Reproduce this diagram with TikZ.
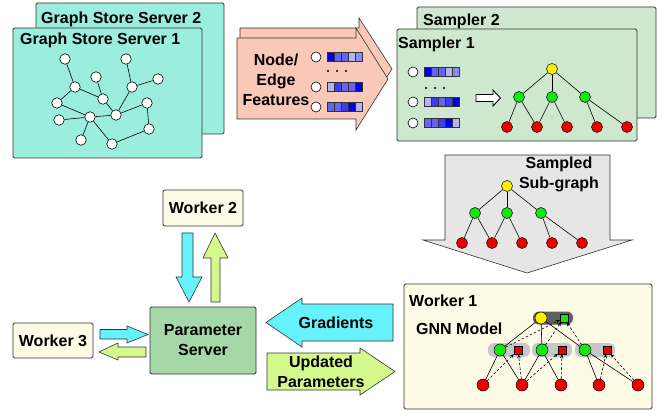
\documentclass[tikz,border=0pt]{standalone}
\usepackage{fontspec}
\setmainfont{Liberation Sans}
\usetikzlibrary{arrows.meta}
\definecolor{aqua}{RGB}{155,238,222}
\definecolor{pinkf}{RGB}{250,200,182}
\definecolor{sampg}{RGB}{205,232,206}
\definecolor{cream}{RGB}{253,251,230}
\definecolor{psg}{RGB}{166,215,168}
\definecolor{grayarr}{RGB}{230,230,230}
\definecolor{cyanar}{RGB}{102,242,252}
\definecolor{lgreen}{RGB}{212,248,140}
\definecolor{ngreen}{RGB}{20,232,20}
\definecolor{nred}{RGB}{238,0,0}
\definecolor{nyellow}{RGB}{255,240,0}
\definecolor{edgec}{RGB}{50,50,50}
\definecolor{Bz}{RGB}{0,0,238}
\definecolor{Bo}{RGB}{60,60,240}
\definecolor{Bt}{RGB}{100,100,240}
\definecolor{Bh}{RGB}{140,140,240}
\definecolor{Bf}{RGB}{180,180,245}
\newcommand\featrow[7]{%
  \draw[line width=0.6pt, fill=white] (#1,#2) circle (5);
  \foreach \c [count=\i from 0] in {#3,#4,#5,#6,#7}{
    \draw[line width=0.4pt, draw=edgec, fill=\c] (#1+11+7*\i,#2-4.5) rectangle (#1+18+7*\i,#2+4.5);
  }
}
\begin{document}
\begin{tikzpicture}[x=1pt,y=-1pt,
  font=\fontsize{16}{20}\selectfont\bfseries,
  box/.style={draw=edgec, line width=0.8pt, rounded corners=1.5pt, inner sep=0pt},
  lbl/.style={inner sep=0pt, anchor=base west},
  ctext/.style={inner sep=0pt, align=center},
  gn/.style={circle, draw=black, fill=white, line width=0.6pt, minimum size=10.5pt, inner sep=0pt},
  tn/.style={circle, draw=black, line width=0.5pt, minimum size=11pt, inner sep=0pt},
  sq/.style={rectangle, draw=black, line width=0.4pt, minimum size=8pt, inner sep=0pt},
  tedge/.style={line width=0.6pt},
  dedge/.style={line width=0.6pt, dash pattern=on 2.5pt off 2pt, -{Stealth[length=4pt,width=3.5pt]}},
  blk/.style={draw=edgec, line width=0.6pt, line join=miter}
]
\useasboundingbox (0,0) rectangle (663,411);

% ---------- Graph store servers ----------
\node[box, fill=aqua, minimum width=188pt, minimum height=131pt] (srv2) at (130,68.5) {};
\node[lbl] (srv2t) at (41,24) {Graph Store Server 2};
\node[box, fill=aqua, minimum width=189pt, minimum height=130pt] (srv1) at (107.5,93) {};
\node[lbl] (srv1t) at (20,45) {Graph Store Server 1};

\node[gn] (a) at (65,59) {};
\node[gn] (b) at (126,59) {};
\node[gn] (c) at (96,77) {};
\node[gn] (d) at (158,79) {};
\node[gn] (e) at (75,87) {};
\node[gn] (f) at (132,87) {};
\node[gn] (g) at (57,103) {};
\node[gn] (h) at (103,99) {};
\node[gn] (i) at (147,103) {};
\node[gn] (j) at (116,115) {};
\node[gn] (k) at (90,117) {};
\node[gn] (l) at (59,120) {};
\node[gn] (m) at (149,129) {};
\node[gn] (n) at (81,140) {};
\node[gn] (o) at (112,144) {};
\foreach \u/\v in {a/e,e/g,e/h,c/h,h/j,b/f,f/d,f/j,g/k,l/k,k/j,j/i,i/m,m/o,o/k,k/n}
  \draw[tedge] (\u) -- (\v);

% ---------- Feature arrow ----------
\draw[blk, fill=pinkf] (240,28) -- (359,28) -- (359,18) -- (392,69) -- (359,120) -- (359,109) -- (240,109) -- cycle;
\draw[blk, fill=pinkf] (237,38) -- (356,38) -- (356,28) -- (388,79) -- (356,130) -- (356,119) -- (237,119) -- cycle;
\node[ctext] (feat) at (276,80) {Node/\\Edge\\Features};
\featrow{316}{57}{Bz}{Bt}{Bt}{Bf}{Bh}
\featrow{316}{87}{Bf}{Bo}{Bt}{Bt}{Bz}
\featrow{316}{107}{Bt}{Bt}{Bo}{Bz}{Bf}
\foreach \xx in {328,337,346} \fill (\xx,71) circle (1.2);

% ---------- Samplers ----------
\node[box, fill=sampg, minimum width=239pt, minimum height=111pt] (smp2) at (536.5,62.5) {};
\node[lbl] (smp2t) at (423,26) {Sampler 2};
\node[box, fill=sampg, minimum width=240pt, minimum height=112pt] (smp1) at (517,85) {};
\node[lbl] (smp1t) at (398,49) {Sampler 1};
\featrow{413}{72}{Bz}{Bt}{Bt}{Bf}{Bh}
\featrow{413}{102}{Bf}{Bo}{Bt}{Bo}{Bz}
\featrow{413}{123}{Bt}{Bt}{Bo}{Bz}{Bf}
\foreach \xx in {426,435,444} \fill (\xx,88) circle (1.2);
\draw[line width=0.9pt, fill=white] (476,94.5) -- (493,94.5) -- (493,90) -- (500.5,98) -- (493,106) -- (493,101.5) -- (476,101.5) -- cycle;

\node[tn, fill=nyellow] (sr) at (552,69) {};
\node[tn, fill=ngreen] (sg1) at (519,97) {};
\node[tn, fill=ngreen] (sg2) at (552,97) {};
\node[tn, fill=ngreen] (sg3) at (585,97) {};
\node[tn, fill=nred] (sr1) at (507,127) {};
\node[tn, fill=nred] (sr2) at (537,127) {};
\node[tn, fill=nred] (sr3) at (567,127) {};
\node[tn, fill=nred] (sr4) at (597,127) {};
\node[tn, fill=nred] (sr5) at (627,127) {};
\foreach \u/\v in {sr/sg1,sr/sg2,sr/sg3,sg1/sr1,sg1/sr2,sg2/sr2,sg2/sr3,sg3/sr4,sg3/sr5}
  \draw[tedge] (\u) -- (\v);

% ---------- Sampled sub-graph arrow ----------
\draw[blk, fill=grayarr] (445,155) -- (610,155) -- (610,240) -- (632,240) -- (527,273) -- (423,240) -- (445,240) -- cycle;
\node[ctext] (subt) at (559,174) {Sampled\\Sub-graph};
\node[tn, fill=nyellow] (ur) at (507,186) {};
\node[tn, fill=ngreen] (ug1) at (475,213) {};
\node[tn, fill=ngreen] (ug2) at (507,213) {};
\node[tn, fill=ngreen] (ug3) at (541,213) {};
\node[tn, fill=nred] (ur1) at (462,243) {};
\node[tn, fill=nred] (ur2) at (492,243) {};
\node[tn, fill=nred] (ur3) at (522,243) {};
\node[tn, fill=nred] (ur4) at (552,243) {};
\node[tn, fill=nred] (ur5) at (582,243) {};
\foreach \u/\v in {ur/ug1,ur/ug2,ur/ug3,ug1/ur1,ug1/ur2,ug2/ur2,ug2/ur3,ug3/ur4,ug3/ur5}
  \draw[tedge] (\u) -- (\v);

% ---------- Worker 1 ----------
\node[box, fill=cream, minimum width=248pt, minimum height=125pt] (w1) at (528,346.5) {};
\node[lbl] (w1t) at (409,306) {Worker 1};
\node[lbl] (gnnt) at (416,334) {GNN Model};
\fill[black!62, rounded corners=6pt] (533,311.5) rectangle (573,324.5);
\fill[black!22, rounded corners=6pt] (488,343) rectangle (530,357);
\fill[black!22, rounded corners=6pt] (532,343) rectangle (572,357);
\fill[black!22, rounded corners=6pt] (575,343) rectangle (615,357);
\node[tn, fill=nyellow, minimum size=12pt] (mr) at (541,318) {};
\node[sq, fill=ngreen] (mrs) at (564,318) {};
\node[tn, fill=ngreen, minimum size=12pt] (mg1) at (500,350) {};
\node[tn, fill=ngreen, minimum size=12pt] (mg2) at (542,350) {};
\node[tn, fill=ngreen, minimum size=12pt] (mg3) at (585,350) {};
\node[sq, fill=nred] (ms1) at (518,350) {};
\node[sq, fill=nred] (ms2) at (562,350) {};
\node[sq, fill=nred] (ms3) at (607,350) {};
\node[tn, fill=nred, minimum size=12pt] (mr1) at (483,385) {};
\node[tn, fill=nred, minimum size=12pt] (mr2) at (522,385) {};
\node[tn, fill=nred, minimum size=12pt] (mr3) at (561,385) {};
\node[tn, fill=nred, minimum size=12pt] (mr4) at (599,385) {};
\node[tn, fill=nred, minimum size=12pt] (mr5) at (638,385) {};
\foreach \u/\v in {mr/mg1,mr/mg2,mr/mg3,mg1/mr1,mg1/mr2,mg2/mr2,mg2/mr3,mg3/mr4,mg3/mr5}
  \draw[tedge] (\u) -- (\v);
\foreach \u/\v in {mr1/ms1,mr2/ms1,mr2/ms2,mr3/ms2,mr4/ms3,mr5/ms3,mg1/mrs,mg2/mrs,mg3/mrs}
  \draw[dedge] (\u) -- (\v);

% ---------- Workers and parameter server ----------
\node[box, fill=cream, minimum width=80pt, minimum height=36pt] (w2) at (203,208) {Worker 2};
\node[box, fill=cream, minimum width=80pt, minimum height=35pt] (w3) at (53,340.5) {Worker 3};
\node[box, fill=psg, minimum width=106pt, minimum height=67pt, align=center] (ps) at (203,340.5) {Parameter\\Server};

% Worker 2 <-> PS
\draw[blk, fill=cyanar] (182,233) -- (193,233) -- (193,277) -- (202,277) -- (189,302) -- (176,277) -- (182,277) -- cycle;
\draw[blk, fill=lgreen] (211,302) -- (220,302) -- (220,258) -- (228,258) -- (215,233) -- (203,258) -- (211,258) -- cycle;
% Worker 3 <-> PS
\draw[blk, fill=cyanar] (100,329.5) -- (127,329.5) -- (127,326) -- (148,334.5) -- (127,343) -- (127,339) -- (100,339) -- cycle;
\draw[blk, fill=lgreen] (146,347) -- (118,347) -- (118,343) -- (99,352) -- (118,360) -- (118,357) -- (146,357) -- cycle;

% Gradients / Updated parameters
\draw[blk, fill=cyanar] (266,322.5) -- (302,298) -- (302,304) -- (393,304) -- (393,341) -- (302,341) -- (302,347) -- cycle;
\node[ctext] (gradt) at (336,323) {Gradients};
\draw[blk, fill=lgreen] (267,353) -- (360,353) -- (360,348) -- (395,371.5) -- (360,395) -- (360,390) -- (267,390) -- cycle;
\node[ctext] (updt) at (321,372) {Updated\\Parameters};
\end{tikzpicture}
\end{document}
